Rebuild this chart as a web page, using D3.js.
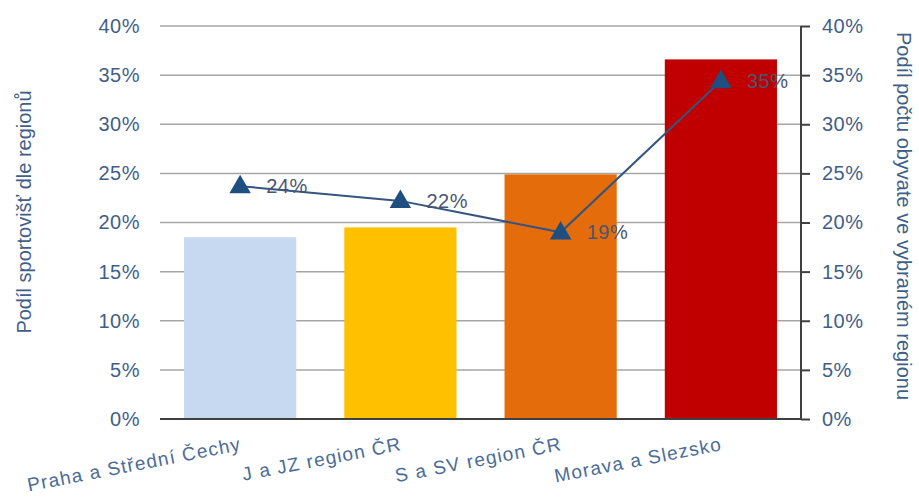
<!DOCTYPE html>
<html>
<head>
<meta charset="utf-8">
<script src="https://cdn.jsdelivr.net/npm/d3@7"></script>
<style>
  body { margin: 0; background: #fff; }
  svg { font-family: "Liberation Sans", Arial, sans-serif; }
</style>
</head>
<body>
<svg width="919" height="497"></svg>
<script>
// chart data
var regions = ["Praha a Střední Čechy", "J a JZ region ČR", "S a SV region ČR", "Morava a Slezsko"];
var sportShare = [0.185, 0.195, 0.249, 0.366];
var popShare = [0.237, 0.222, 0.190, 0.344];
var popLabels = ["24%", "22%", "19%", "35%"];
var barColors = ["#C6D9F1", "#FFC000", "#E46C0A", "#C00000"];
var yTicks = [0, 0.05, 0.1, 0.15, 0.2, 0.25, 0.3, 0.35, 0.4];

var svg = d3.select("svg");
// plot edges (note: "top" is a reserved window prop, so prefix these)
var plotLeft = 160, plotRight = 801, plotTop = 26, plotBottom = 419;
var textColor = "#3F5F88";

var x = d3.scaleBand().domain(regions).range([plotLeft, plotRight]).paddingInner(0.3).paddingOuter(0.15);
var y = d3.scaleLinear().domain([0, 0.4]).range([plotBottom, plotTop]);
var fmt = d3.format(".0%");

// grid lines
svg.append("g").selectAll("line").data(yTicks.slice(1)).enter().append("line")
  .attr("x1", plotLeft).attr("x2", plotRight)
  .attr("y1", function(d){ return y(d); }).attr("y2", function(d){ return y(d); })
  .attr("stroke", "#A6A6A6").attr("stroke-width", 1.5);

// bars
svg.append("g").selectAll("rect").data(sportShare).enter().append("rect")
  .attr("x", function(d, i){ return x(regions[i]); })
  .attr("width", x.bandwidth())
  .attr("y", function(d){ return y(d); })
  .attr("height", function(d){ return y(0) - y(d); })
  .attr("fill", function(d, i){ return barColors[i]; });

// baseline
svg.append("line").attr("x1", plotLeft).attr("x2", plotRight)
  .attr("y1", y(0)).attr("y2", y(0))
  .attr("stroke", "#404040").attr("stroke-width", 2);

// left axis labels
var leftAxis = d3.axisLeft(y).tickValues(yTicks).tickFormat(fmt).tickSize(0).tickPadding(20);
var gl = svg.append("g").attr("transform", "translate(" + plotLeft + ",0)").call(leftAxis);
gl.select(".domain").remove();
gl.selectAll("text").attr("font-size", 20).attr("letter-spacing", 0.5).attr("fill", textColor).attr("font-family", "Liberation Sans, Arial");

// right axis
var rightAxis = d3.axisRight(y).tickValues(yTicks).tickFormat(fmt).tickSize(9).tickPadding(12);
var gr = svg.append("g").attr("transform", "translate(" + plotRight + ",0)").call(rightAxis);
gr.select(".domain").attr("stroke", "#404040").attr("stroke-width", 2).attr("d", "M0," + plotTop + "V" + plotBottom);
gr.selectAll("line").attr("stroke", "#404040").attr("stroke-width", 2);
gr.selectAll("text").attr("font-size", 20).attr("letter-spacing", 0.5).attr("fill", textColor).attr("font-family", "Liberation Sans, Arial");

// x labels
svg.append("g").selectAll("text").data(regions).enter().append("text")
  .attr("transform", function(d){ return "translate(" + (x(d) + x.bandwidth() / 2 + 2) + ",450) rotate(-11)"; })
  .attr("text-anchor", "end")
  .attr("font-size", 19)
  .attr("letter-spacing", 1.2)
  .attr("fill", "#4A6C96")
  .text(function(d){ return d; });

// line series
var cx = function(d, i){ return x(regions[i]) + x.bandwidth() / 2; };
var line = d3.line().x(function(d, i){ return cx(d, i); }).y(function(d){ return y(d); });
svg.append("path").datum(popShare).attr("d", line)
  .attr("fill", "none").attr("stroke", "#34557F").attr("stroke-width", 2);

var tri = d3.symbol().type(d3.symbolTriangle).size(200);
svg.append("g").selectAll("path").data(popShare).enter().append("path")
  .attr("d", tri)
  .attr("transform", function(d, i){ return "translate(" + cx(d, i) + "," + (y(d) + 1) + ")"; })
  .attr("fill", "#1F4E80");

svg.append("g").selectAll("text").data(popShare).enter().append("text")
  .attr("x", function(d, i){ return cx(d, i) + 26; })
  .attr("y", function(d){ return y(d) + 7; })
  .attr("font-size", 20)
  .attr("letter-spacing", 0.6)
  .attr("fill", "#4A5670")
  .text(function(d, i){ return popLabels[i]; });

// axis titles
svg.append("text")
  .attr("transform", "translate(31,212) rotate(-90)")
  .attr("text-anchor", "middle").attr("font-size", 20).attr("fill", textColor)
  .text("Podíl sportovišť dle regionů");

svg.append("text")
  .attr("transform", "translate(897,216) rotate(90)")
  .attr("text-anchor", "middle").attr("font-size", 20).attr("fill", textColor)
  .text("Podíl počtu obyvate ve vybraném regionu");
</script>
</body>
</html>
